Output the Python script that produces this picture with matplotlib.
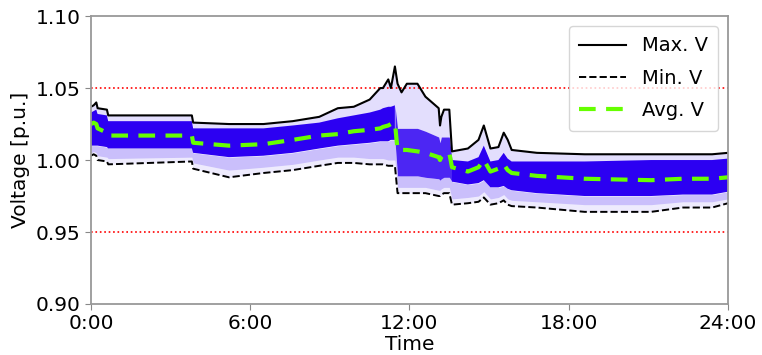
import matplotlib
matplotlib.use("Agg")
import matplotlib.pyplot as plt
import numpy as np

# time of day in hours (shared grid for all series)
hours = [0, 0.1, 0.2, 0.25, 0.6, 0.65, 3.8, 3.85, 5.2, 6.5, 7.6, 8.6, 9.3, 9.9,
         10.5, 10.9, 11.0, 11.2, 11.3, 11.45, 11.55, 11.7, 11.9, 12.3, 12.6, 13.1,
         13.15, 13.2, 13.3, 13.5, 13.6, 14.2, 14.6, 14.8, 15.05, 15.35, 15.55,
         15.7, 15.85, 16.8, 18.6, 21.1, 22.3, 23.4, 24]

v_max = [1.037, 1.038, 1.040, 1.036, 1.035, 1.031, 1.031, 1.026, 1.025, 1.025,
         1.027, 1.030, 1.036, 1.037, 1.042, 1.050, 1.050, 1.056, 1.050, 1.065,
         1.053, 1.047, 1.053, 1.053, 1.044, 1.036, 1.024, 1.030, 1.035, 1.035,
         1.006, 1.008, 1.014, 1.024, 1.008, 1.009, 1.019, 1.014, 1.007, 1.005,
         1.004, 1.004, 1.004, 1.004, 1.005]

v_min = [1.003, 1.004, 1.003, 1.000, 0.999, 0.997, 0.999, 0.994, 0.988, 0.991,
         0.993, 0.996, 0.998, 0.998, 0.997, 0.997, 0.997, 0.996, 0.996, 0.996,
         0.977, 0.977, 0.977, 0.977, 0.977, 0.975, 0.975, 0.976, 0.977, 0.977,
         0.969, 0.970, 0.971, 0.974, 0.969, 0.970, 0.972, 0.969, 0.968, 0.967,
         0.964, 0.964, 0.967, 0.967, 0.970]

v_avg = [1.025, 1.026, 1.025, 1.022, 1.019, 1.017, 1.017, 1.012, 1.010, 1.011,
         1.014, 1.017, 1.018, 1.020, 1.021, 1.022, 1.023, 1.024, 1.025, 1.026,
         1.007, 1.007, 1.007, 1.006, 1.005, 1.002, 1.000, 1.002, 1.004, 1.005,
         0.995, 0.992, 0.995, 1.000, 0.992, 0.994, 0.997, 0.993, 0.991, 0.989,
         0.987, 0.986, 0.987, 0.987, 0.988]

# dense part of the bus voltage band
dense_hi = [1.033, 1.034, 1.035, 1.032, 1.031, 1.027, 1.027, 1.022, 1.022, 1.022,
            1.024, 1.026, 1.029, 1.031, 1.033, 1.035, 1.036, 1.037, 1.037, 1.038,
            1.022, 1.022, 1.022, 1.022, 1.020, 1.016, 1.012, 1.016, 1.016, 1.016,
            1.000, 0.999, 1.002, 1.010, 0.999, 1.000, 1.005, 1.001, 0.999, 0.999,
            0.999, 1.000, 1.000, 1.000, 1.001]

dense_lo = [1.010, 1.010, 1.010, 1.010, 1.009, 1.008, 1.008, 1.005, 1.002, 1.003,
            1.005, 1.008, 1.010, 1.011, 1.012, 1.013, 1.013, 1.013, 1.014, 1.014,
            0.989, 0.989, 0.989, 0.989, 0.988, 0.987, 0.986, 0.987, 0.988, 0.988,
            0.985, 0.983, 0.984, 0.986, 0.981, 0.981, 0.982, 0.980, 0.979, 0.977,
            0.975, 0.975, 0.976, 0.976, 0.978]

# where the lighter lines under the dense band fade out
band_lo = [1.005, 1.006, 1.005, 1.003, 1.002, 1.001, 1.002, 0.998, 0.993, 0.995,
           0.997, 1.000, 1.002, 1.002, 1.001, 1.001, 1.001, 1.000, 1.000, 1.000,
           0.981, 0.981, 0.981, 0.981, 0.981, 0.979, 0.979, 0.980, 0.981, 0.981,
           0.973, 0.974, 0.975, 0.978, 0.973, 0.974, 0.976, 0.973, 0.972, 0.971,
           0.969, 0.969, 0.971, 0.971, 0.973]

x_ticks = [0, 6, 12, 18, 24]
x_labels = ["0:00", "6:00", "12:00", "18:00", "24:00"]
y_ticks = [0.90, 0.95, 1.00, 1.05, 1.10]
limits = [0.95, 1.05]


def main():
    plt.rcParams["font.family"] = "DejaVu Sans"
    fig = plt.figure(figsize=(7.62, 3.55), dpi=100)
    ax = fig.add_axes([0.1194, 0.1437, 0.836, 0.811])

    blue = "#2c00f2"
    h = np.array(hours)
    spread = (h >= 11.45) & (h <= 13.6)  # after noon the lines fan out

    ax.fill_between(hours, dense_hi, v_max, color=blue, alpha=0.13, lw=0)
    ax.fill_between(hours, band_lo, dense_lo, color=blue, alpha=0.25, lw=0)
    ax.fill_between(hours, v_min, band_lo, color=blue, alpha=0.08, lw=0)
    ax.fill_between(hours, dense_lo, dense_hi, where=~spread | (h == 11.45) | (h == 13.6),
                    color=blue, lw=0)
    ax.fill_between(hours, dense_lo, dense_hi, where=spread,
                    color=blue, alpha=0.85, lw=0)

    for lim in limits:
        ax.axhline(lim, color="red", ls=":", lw=1.2)

    ax.plot(hours, v_max, color="black", lw=1.5, label="Max. V")
    ax.plot(hours, v_min, color="black", ls="--", lw=1.4, label="Min. V")
    ax.plot(hours, v_avg, color="#66ff00", ls="--", lw=3, dashes=(4, 2.5),
            label="Avg. V")

    ax.set_xlim(0, 24)
    ax.set_ylim(0.90, 1.10)
    ax.set_xticks(x_ticks)
    ax.set_xticklabels(x_labels)
    ax.set_yticks(y_ticks)
    ax.set_yticklabels([f"{y:.2f}" for y in y_ticks])
    ax.tick_params(labelsize=14.5, color="#888888", length=4)
    for sp in ax.spines.values():
        sp.set_color("#999999")
        sp.set_linewidth(1.3)

    ax.set_xlabel("Time", fontsize=14.5, labelpad=1)
    ax.set_ylabel("Voltage [p.u.]", fontsize=14.5, labelpad=4)

    ax.legend(loc="upper right", fontsize=14, handlelength=2.4,
              borderpad=0.55, labelspacing=0.68)

    fig.savefig("out.png", dpi=100)


if __name__ == "__main__":
    main()
